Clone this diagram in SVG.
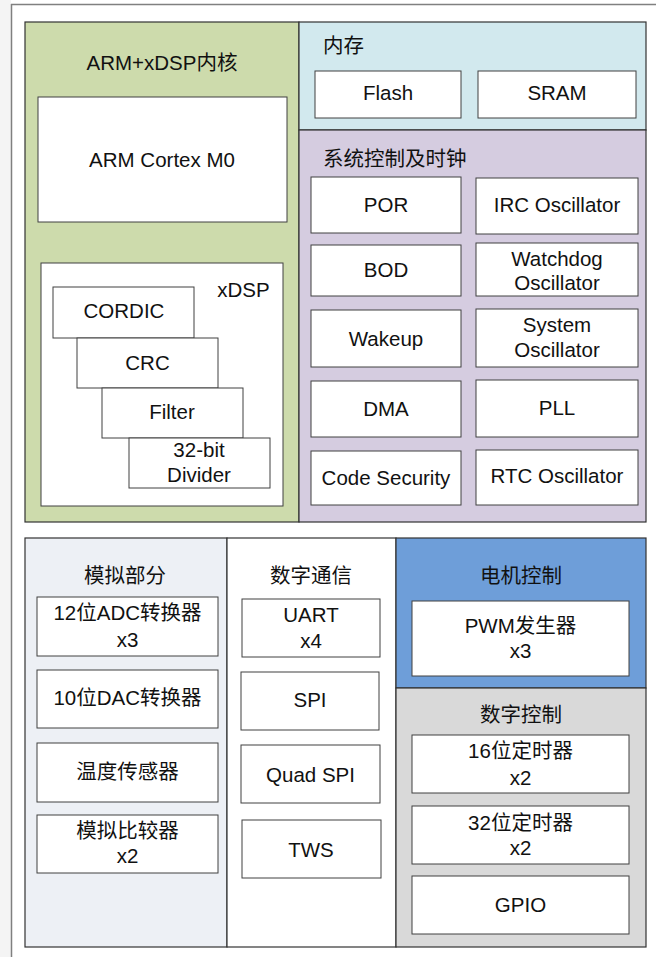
<svg xmlns="http://www.w3.org/2000/svg" width="656" height="957" viewBox="0 0 656 957">
<style>
text{font-family:"Liberation Sans","Noto Sans CJK SC",Arial,sans-serif;font-size:20.5px;fill:#111;text-anchor:middle}
.panel{stroke:#333;stroke-width:1.2}
.box{fill:#fff;stroke:#404040;stroke-width:1}
.lt{text-anchor:start}
</style>
<rect x="0" y="0" width="656" height="957" fill="#fff"/>
<rect x="0" y="0" width="11" height="957" fill="#f4f4f4"/>
<line x1="11.5" y1="4" x2="11.5" y2="957" stroke="#808080" stroke-width="1.5"/>
<line x1="11" y1="4.5" x2="656" y2="4.5" stroke="#808080" stroke-width="1.5"/>

<g id="core">
<rect class="panel" x="25" y="22" width="274" height="500" fill="#cddbac"/>
<text x="162" y="70">ARM+xDSP内核</text>
</g>
<g id="arm">
<rect class="box" x="38" y="97" width="249" height="125"/>
<text x="162" y="167">ARM Cortex M0</text>
</g>
<g id="xdsp">
<rect class="box" x="41" y="263" width="242" height="243"/>
<text x="243.5" y="297">xDSP</text>
</g>
<g id="cordic"><rect class="box" x="53" y="287" width="141" height="51"/><text x="124" y="318">CORDIC</text></g>
<g id="crc"><rect class="box" x="77" y="338" width="141" height="50"/><text x="147.5" y="370">CRC</text></g>
<g id="filter"><rect class="box" x="102" y="388" width="141" height="50"/><text x="172" y="419">Filter</text></g>
<g id="divider"><rect class="box" x="129" y="438" width="141" height="50"/><text x="199" y="457">32-bit</text><text x="199" y="482">Divider</text></g>

<g id="memory">
<rect class="panel" x="299" y="22" width="347" height="108" fill="#d2e9ee"/>
<text class="lt" x="323" y="53">内存</text>
</g>
<g id="flash"><rect class="box" x="315" y="71" width="146" height="47"/><text x="388" y="100">Flash</text></g>
<g id="sram"><rect class="box" x="478" y="71" width="158" height="47"/><text x="557" y="100">SRAM</text></g>

<g id="sysctrl">
<rect class="panel" x="299" y="130" width="347" height="392" fill="#d5cce0"/>
<text class="lt" x="323" y="166">系统控制及时钟</text>
</g>
<g id="por"><rect class="box" x="311" y="177" width="150" height="56"/><text x="386" y="212">POR</text></g>
<g id="irc"><rect class="box" x="476" y="178" width="162" height="56"/><text x="557" y="212">IRC Oscillator</text></g>
<g id="bod"><rect class="box" x="311" y="245" width="150" height="51"/><text x="386" y="277">BOD</text></g>
<g id="wdt"><rect class="box" x="476" y="243" width="162" height="53"/><text x="557" y="266">Watchdog</text><text x="557" y="290">Oscillator</text></g>
<g id="wakeup"><rect class="box" x="311" y="310" width="150" height="57"/><text x="386" y="346">Wakeup</text></g>
<g id="sysosc"><rect class="box" x="476" y="309" width="162" height="58"/><text x="557" y="332">System</text><text x="557" y="357">Oscillator</text></g>
<g id="dma"><rect class="box" x="311" y="381" width="150" height="56"/><text x="386" y="416">DMA</text></g>
<g id="pll"><rect class="box" x="476" y="380" width="162" height="57"/><text x="557" y="415">PLL</text></g>
<g id="codesec"><rect class="box" x="311" y="451" width="150" height="54"/><text x="386" y="485">Code Security</text></g>
<g id="rtc"><rect class="box" x="476" y="450" width="162" height="55"/><text x="557" y="483">RTC Oscillator</text></g>

<g id="analog">
<rect class="panel" x="25" y="538" width="202" height="409" fill="#edf0f5"/>
<text x="125" y="583">模拟部分</text>
</g>
<g id="adc"><rect class="box" x="37" y="597" width="181" height="59"/><text x="127.5" y="620">12位ADC转换器</text><text x="127.5" y="647">x3</text></g>
<g id="dac"><rect class="box" x="37" y="670" width="181" height="58"/><text x="127.5" y="705">10位DAC转换器</text></g>
<g id="temp"><rect class="box" x="37" y="743" width="181" height="59"/><text x="127.5" y="779">温度传感器</text></g>
<g id="comp"><rect class="box" x="37" y="815" width="181" height="58"/><text x="127.5" y="838">模拟比较器</text><text x="127.5" y="863">x2</text></g>

<g id="comm">
<rect class="panel" x="227" y="538" width="169" height="409" fill="#fff"/>
<text x="311" y="583">数字通信</text>
</g>
<g id="uart"><rect class="box" x="242" y="599" width="138" height="58"/><text x="311" y="622">UART</text><text x="311" y="648">x4</text></g>
<g id="spi"><rect class="box" x="241" y="672" width="138" height="58"/><text x="310" y="707">SPI</text></g>
<g id="qspi"><rect class="box" x="241" y="745" width="139" height="58"/><text x="310.5" y="782">Quad SPI</text></g>
<g id="tws"><rect class="box" x="242" y="820" width="139" height="58"/><text x="311" y="857">TWS</text></g>

<g id="motor">
<rect class="panel" x="396" y="538" width="250" height="150" fill="#6e9ed9"/>
<text x="521" y="583">电机控制</text>
</g>
<g id="pwm"><rect class="box" x="412" y="601" width="217" height="75"/><text x="520.5" y="633">PWM发生器</text><text x="520.5" y="658">x3</text></g>

<g id="digctrl">
<rect class="panel" x="396" y="688" width="250" height="259" fill="#d9d9d9"/>
<text x="521" y="722">数字控制</text>
</g>
<g id="t16"><rect class="box" x="412" y="735" width="217" height="58"/><text x="520.5" y="758">16位定时器</text><text x="520.5" y="785">x2</text></g>
<g id="t32"><rect class="box" x="412" y="806" width="217" height="58"/><text x="520.5" y="830">32位定时器</text><text x="520.5" y="855">x2</text></g>
<g id="gpio"><rect class="box" x="412" y="876" width="217" height="58"/><text x="520.5" y="912">GPIO</text></g>

<g id="connectors"></g>
</svg>
